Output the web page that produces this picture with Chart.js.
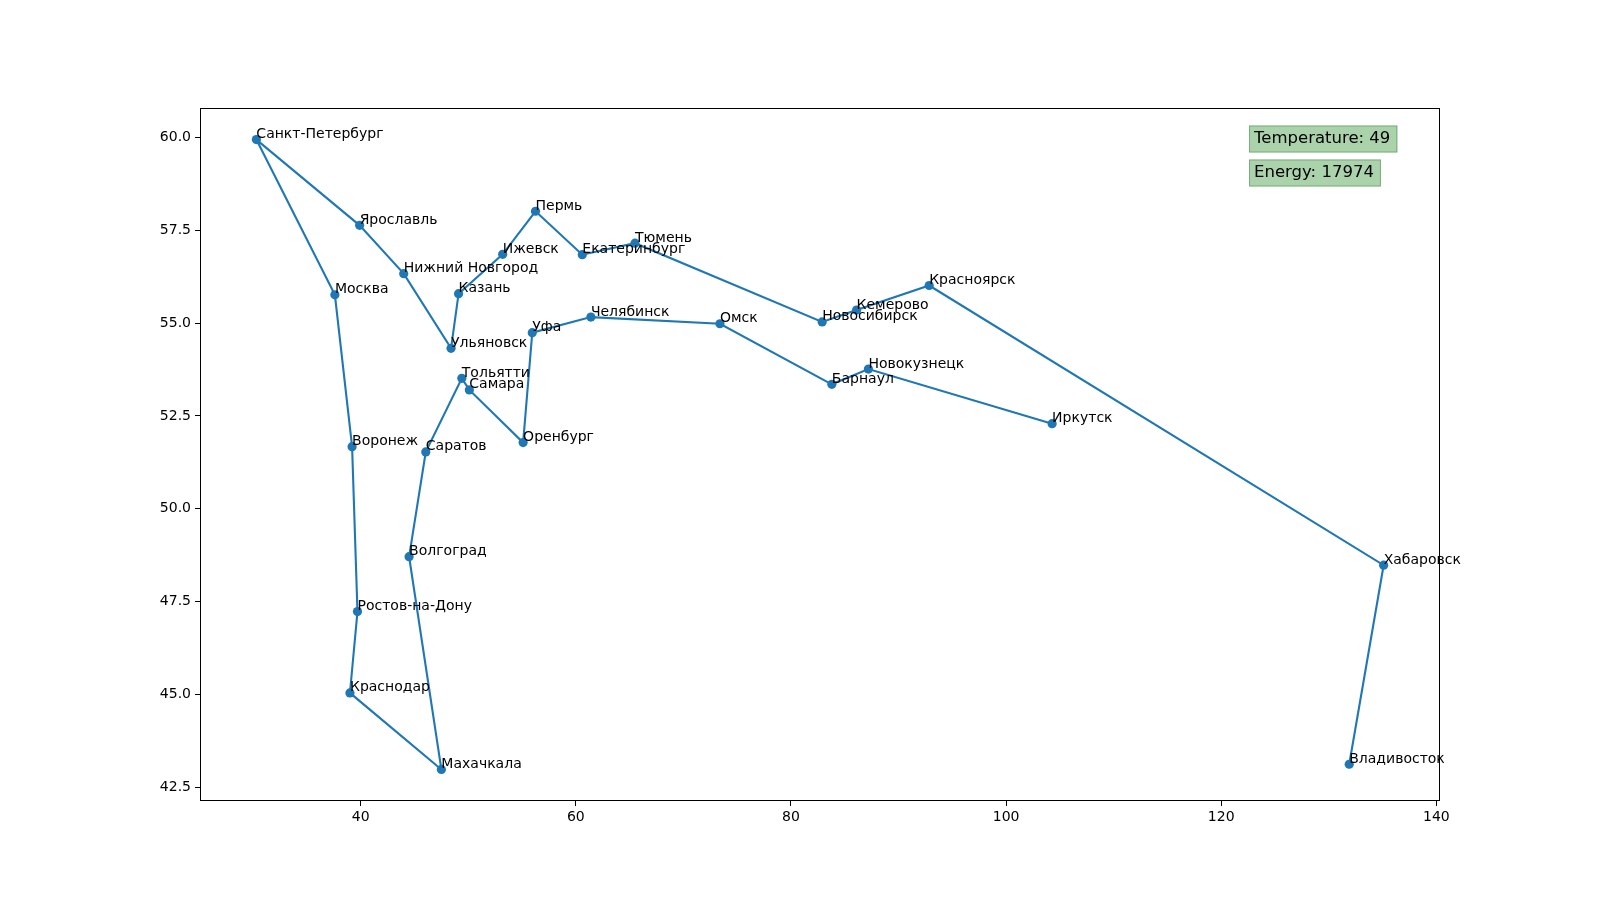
<!DOCTYPE html>
<html>
<head>
<meta charset="utf-8">
<script src="https://cdn.jsdelivr.net/npm/chart.js@4.4.1/dist/chart.umd.min.js"></script>
<style>
  html, body { margin: 0; padding: 0; background: #fff; }
  #wrap { width: 1600px; height: 900px; }
</style>
</head>
<body>
<div id="wrap"><canvas id="mychart" width="1600" height="900"></canvas></div>
<script>
// route order
const cities = ['Иркутск', 'Новокузнецк', 'Барнаул', 'Омск', 'Челябинск', 'Уфа', 'Оренбург',
    'Самара', 'Тольятти', 'Саратов', 'Волгоград', 'Махачкала', 'Краснодар', 'Ростов-на-Дону',
    'Воронеж', 'Москва', 'Санкт-Петербург', 'Ярославль', 'Нижний Новгород', 'Ульяновск',
    'Казань', 'Ижевск', 'Пермь', 'Екатеринбург', 'Тюмень', 'Новосибирск', 'Кемерово',
    'Красноярск', 'Хабаровск', 'Владивосток'];
const lons = [104.28, 87.2, 83.8, 73.4, 61.4, 55.95, 55.1,
    50.1, 49.4, 46.05, 44.5, 47.5, 39.0, 39.7,
    39.2, 37.6, 30.3, 39.9, 44.0, 48.4,
    49.1, 53.2, 56.25, 60.6, 65.5, 82.9, 86.1,
    92.85, 135.1, 131.9];
const lats = [52.29, 53.76, 53.35, 54.98, 55.16, 54.74, 51.78,
    53.2, 53.51, 51.53, 48.71, 42.98, 45.04, 47.23,
    51.67, 55.76, 59.94, 57.63, 56.33, 54.32,
    55.79, 56.85, 58.01, 56.84, 57.15, 55.03, 55.35,
    56.01, 48.48, 43.12];

const xTicks = [40, 60, 80, 100, 120, 140];
const yTicks = [42.5, 45.0, 47.5, 50.0, 52.5, 55.0, 57.5, 60.0];
const infoLines = ['Temperature: 49', 'Energy: 17974'];

const FONT = '"DejaVu Sans", sans-serif';

// city names next to the points + frame + info boxes
const overlay = {
    id: 'overlay',
    afterDatasetsDraw(chart) {
        const c = chart.ctx;
        const xs = chart.scales.x, ys = chart.scales.y;
        const a = chart.chartArea;
        c.save();
        c.fillStyle = '#000';
        c.font = '14px ' + FONT;
        c.textAlign = 'left';
        c.textBaseline = 'alphabetic';
        cities.forEach((name, i) => {
            c.fillText(name, xs.getPixelForValue(lons[i]), ys.getPixelForValue(lats[i]) - 1.5);
        });
        // full box around the axes
        c.strokeStyle = '#000';
        c.lineWidth = 1;
        c.strokeRect(Math.round(a.left) + 0.5, Math.round(a.top) + 0.5,
            Math.round(a.right - a.left) - 1, Math.round(a.bottom - a.top) - 1);
        // info boxes
        c.font = '16.5px ' + FONT;
        c.textBaseline = 'middle';
        let top = a.top + 17.5;
        const left = a.left + (a.right - a.left) * 0.846;
        infoLines.forEach(t => {
            const w = c.measureText(t).width + 12;
            c.fillStyle = 'rgba(87, 167, 87, 0.5)';
            c.fillRect(left, top, w, 27);
            c.strokeStyle = 'rgba(60, 120, 60, 0.45)';
            c.strokeRect(left + 0.5, top + 0.5, w - 1, 26);
            c.fillStyle = '#000';
            c.fillText(t, left + 5, top + 13.5);
            top += 34;
        });
        c.restore();
    }
};

const ctx = document.getElementById('mychart').getContext('2d');
const myChart = new Chart(ctx, {
    type: 'scatter',
    data: {
        datasets: [{
            data: lons.map((x, i) => ({ x: x, y: lats[i] })),
            showLine: true,
            borderColor: '#1f77b4',
            borderWidth: 2.1,
            backgroundColor: '#1f77b4',
            pointRadius: 4.6,
            pointBorderWidth: 0,
            tension: 0
        }]
    },
    options: {
        responsive: false,
        animation: false,
        devicePixelRatio: 1,
        layout: { padding: { left: 0, right: 160, top: 108, bottom: 0 } },
        plugins: { legend: { display: false }, tooltip: { enabled: false } },
        scales: {
            x: {
                type: 'linear',
                min: 25.06, max: 140.34,
                afterBuildTicks: s => { s.ticks = xTicks.map(v => ({ value: v })); },
                afterFit: s => { s.height = 99; },
                ticks: { color: '#000', font: { family: FONT, size: 14 }, padding: 3, maxRotation: 0,
                    callback: v => String(v) },
                grid: { drawOnChartArea: false, drawTicks: true, tickLength: 5, tickColor: '#000' },
                border: { display: false }
            },
            y: {
                type: 'linear',
                min: 42.13, max: 60.79,
                afterBuildTicks: s => { s.ticks = yTicks.map(v => ({ value: v })); },
                afterFit: s => { s.width = 200; },
                ticks: { color: '#000', font: { family: FONT, size: 14 }, padding: 4,
                    callback: v => Number(v).toFixed(1) },
                grid: { drawOnChartArea: false, drawTicks: true, tickLength: 5, tickColor: '#000' },
                border: { display: false }
            }
        }
    },
    plugins: [overlay]
});
</script>
</body>
</html>
